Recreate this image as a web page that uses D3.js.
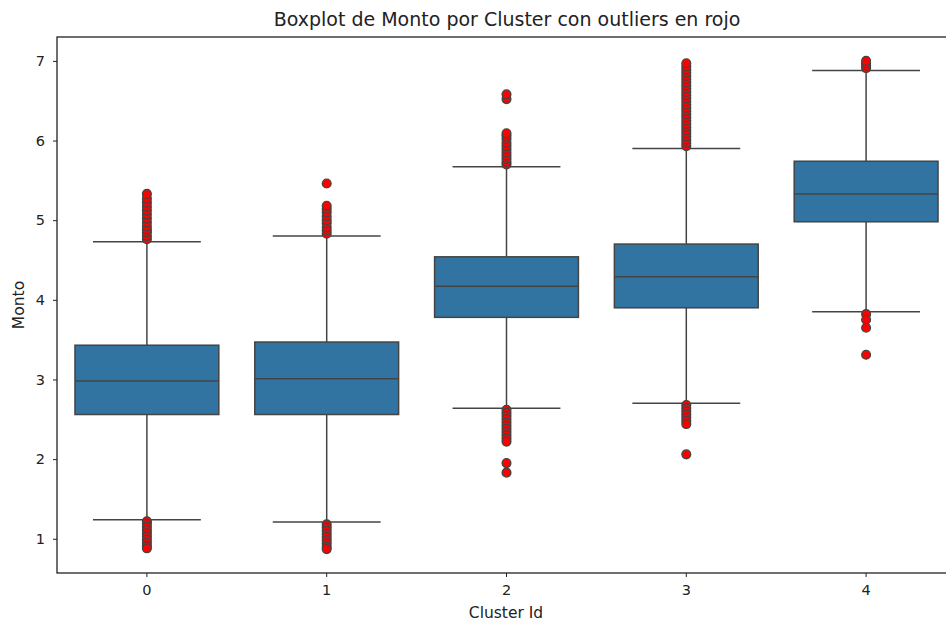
<!DOCTYPE html>
<html>
<head>
<meta charset="utf-8">
<script src="https://cdn.jsdelivr.net/npm/d3@7"></script>
<style>
  body { margin: 0; background: #fff; }
  text { font-family: "DejaVu Sans", sans-serif; fill: #222; }
</style>
</head>
<body>
<svg id="chart" width="946" height="624"></svg>
<script>
// cluster stats
const clusters = ["0", "1", "2", "3", "4"];
const q1 = [2.56, 2.56, 3.78, 3.90, 4.98];
const medians = [2.98, 3.01, 4.17, 4.29, 5.33];
const q3 = [3.43, 3.47, 4.54, 4.70, 5.74];
const whiskerLow = [1.24, 1.21, 2.64, 2.70, 3.85];
const whiskerHigh = [4.73, 4.80, 5.67, 5.90, 6.88];
const outliers = [
  [4.76, 4.80, 4.85, 4.88, 4.92, 4.97, 5.02, 5.07, 5.12, 5.17, 5.22, 5.27, 5.33,
   1.22, 1.19, 1.15, 1.11, 1.07, 1.03, 0.99, 0.95, 0.91, 0.88],
  [4.83, 4.87, 4.91, 4.96, 5.00, 5.05, 5.10, 5.14, 5.18, 5.46,
   1.18, 1.14, 1.10, 1.06, 1.02, 0.98, 0.94, 0.90, 0.87],
  [5.70, 5.73, 5.77, 5.81, 5.85, 5.89, 5.93, 5.97, 6.02, 6.06, 6.09, 6.52, 6.58,
   2.62, 2.58, 2.54, 2.50, 2.46, 2.42, 2.38, 2.34, 2.30, 2.26, 2.22, 1.95, 1.83],
  [5.93, 5.97, 6.01, 6.05, 6.09, 6.13, 6.17, 6.21, 6.25, 6.29, 6.33, 6.37, 6.41, 6.45,
   6.49, 6.53, 6.57, 6.61, 6.65, 6.69, 6.73, 6.77, 6.81, 6.85, 6.89, 6.93, 6.97,
   2.68, 2.64, 2.60, 2.56, 2.52, 2.48, 2.44, 2.06],
  [6.91, 6.94, 6.97, 7.00, 3.82, 3.75, 3.65, 3.31]
];
const yTicks = [1, 2, 3, 4, 5, 6, 7];

const svg = d3.select("#chart");
const mLeft = 57, mRight = 956, mTop = 37, mBottom = 573;

let x = d3.scaleBand().domain(clusters).range([mLeft, mRight]).paddingInner(0).paddingOuter(0);
let y = d3.scaleLinear().domain([0.57, 7.30]).range([mBottom, mTop]);

const lineColor = "#444444";
const boxColor = "#3274a1";
const bw = x.bandwidth() * 0.8;
const capW = bw * 0.75;
const lw = 1.5;

let data = clusters.map((c, i) => ({
  c: c, q1: q1[i], med: medians[i], q3: q3[i],
  lo: whiskerLow[i], hi: whiskerHigh[i], out: outliers[i]
}));

let g = svg.append("g");

data.forEach(function (d) {
  let cx = x(d.c) + x.bandwidth() / 2;
  // whiskers
  g.append("line").attr("x1", cx).attr("x2", cx).attr("y1", y(d.q3)).attr("y2", y(d.hi))
    .attr("stroke", lineColor).attr("stroke-width", lw);
  g.append("line").attr("x1", cx).attr("x2", cx).attr("y1", y(d.q1)).attr("y2", y(d.lo))
    .attr("stroke", lineColor).attr("stroke-width", lw);
  g.append("line").attr("x1", cx - capW / 2).attr("x2", cx + capW / 2)
    .attr("y1", y(d.hi)).attr("y2", y(d.hi))
    .attr("stroke", lineColor).attr("stroke-width", lw);
  g.append("line").attr("x1", cx - capW / 2).attr("x2", cx + capW / 2)
    .attr("y1", y(d.lo)).attr("y2", y(d.lo))
    .attr("stroke", lineColor).attr("stroke-width", lw);
  // box
  g.append("rect").attr("x", cx - bw / 2).attr("width", bw)
    .attr("y", y(d.q3)).attr("height", y(d.q1) - y(d.q3))
    .attr("fill", boxColor).attr("stroke", lineColor).attr("stroke-width", lw);
  g.append("line").attr("x1", cx - bw / 2).attr("x2", cx + bw / 2)
    .attr("y1", y(d.med)).attr("y2", y(d.med))
    .attr("stroke", lineColor).attr("stroke-width", lw);
  // outliers
  g.selectAll(null).data(d.out).enter().append("circle")
    .attr("cx", cx).attr("cy", v => y(v)).attr("r", 4.4)
    .attr("fill", "#ff0000").attr("stroke", lineColor).attr("stroke-width", 1.3);
});

// axes
let xAxis = d3.axisBottom(x).tickSize(4).tickPadding(8);
let yAxis = d3.axisLeft(y).tickValues(yTicks).tickFormat(d3.format("d")).tickSize(4).tickPadding(8);

let xa = svg.append("g").attr("transform", "translate(0," + mBottom + ")").call(xAxis);
let ya = svg.append("g").attr("transform", "translate(" + mLeft + ",0)").call(yAxis);
[xa, ya].forEach(function (a) {
  a.select(".domain").remove();
  a.selectAll("line").attr("stroke", "#222");
  a.selectAll("text").style("font-size", "14.5px").attr("fill", "#222");
});

// frame
svg.append("rect").attr("x", mLeft).attr("y", mTop)
  .attr("width", mRight - mLeft).attr("height", mBottom - mTop)
  .attr("fill", "none").attr("stroke", "#222").attr("stroke-width", 1.3);

svg.append("text").attr("x", 507).attr("y", 26).attr("text-anchor", "middle")
  .style("font-size", "19px").text("Boxplot de Monto por Cluster con outliers en rojo");
svg.append("text").attr("x", 506).attr("y", 618).attr("text-anchor", "middle")
  .style("font-size", "15.5px").text("Cluster Id");
svg.append("text").attr("transform", "translate(24," + (mTop + mBottom) / 2 + ") rotate(-90)")
  .attr("text-anchor", "middle").style("font-size", "15.5px").text("Monto");
</script>
</body>
</html>
